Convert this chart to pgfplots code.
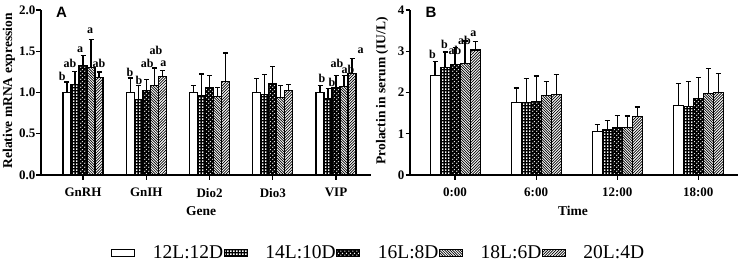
\documentclass[border=0pt]{standalone}
\usepackage{fontspec}
\setmainfont{Liberation Serif}
\newfontfamily\sansb{Liberation Sans}
\usepackage{pgfplots}
\pgfplotsset{compat=1.18}
\usepackage{pgfplotstable}
\usetikzlibrary{patterns}

% white squares (checker)
\pgfdeclarepatternformonly{wsq}{\pgfqpoint{0pt}{0pt}}{\pgfqpoint{2.8pt}{2.8pt}}{\pgfqpoint{2.8pt}{2.8pt}}{%
  \pgfpathrectangle{\pgfqpoint{0.2pt}{0.2pt}}{\pgfqpoint{1.4pt}{1.4pt}}\pgfusepath{fill}}
% white dots staggered
\pgfdeclarepatternformonly{wdot}{\pgfqpoint{0pt}{0pt}}{\pgfqpoint{4pt}{4pt}}{\pgfqpoint{4pt}{4pt}}{%
  \pgfpathcircle{\pgfqpoint{1pt}{1pt}}{0.8pt}\pgfpathcircle{\pgfqpoint{3pt}{3pt}}{0.8pt}\pgfusepath{fill}}
\pgfdeclarepatternformonly{mynw}{\pgfqpoint{-1pt}{-1pt}}{\pgfqpoint{3.6pt}{3.6pt}}{\pgfqpoint{2.6pt}{2.6pt}}{%
  \pgfsetlinewidth{0.7pt}\pgfpathmoveto{\pgfqpoint{0pt}{2.6pt}}\pgfpathlineto{\pgfqpoint{2.7pt}{-0.1pt}}\pgfusepath{stroke}}
\pgfdeclarepatternformonly{myne}{\pgfqpoint{-1pt}{-1pt}}{\pgfqpoint{3.8pt}{3.8pt}}{\pgfqpoint{2.8pt}{2.8pt}}{%
  \pgfsetlinewidth{0.7pt}\pgfpathmoveto{\pgfqpoint{0pt}{0pt}}\pgfpathlineto{\pgfqpoint{2.9pt}{2.9pt}}\pgfusepath{stroke}}

\tikzset{
  s1/.style={draw=black, fill=white},
  s2/.style={draw=black, fill=black, postaction={pattern=wsq, pattern color=white}},
  s3/.style={draw=black, fill=black, postaction={pattern=wdot, pattern color=white}},
  s4/.style={draw=black, fill=white, postaction={pattern=mynw, pattern color=black}},
  s5/.style={draw=black, fill=white, postaction={pattern=myne, pattern color=black}},
}

\pgfplotsset{
  myaxis/.style={
    scale only axis, axis lines=left, clip=false,
    axis line style={-, line width=1.2pt},
    tick style={black, line width=1.2pt}, tick align=outside,
    major tick length=4.5pt, minor tick num=0,
    /pgf/number format/assume math mode=true,
    tick label style={font=\bfseries\fontsize{13}{14}\selectfont},
    xticklabel style={yshift=-5pt},
    yticklabel style={xshift=2.5pt},
    label style={font=\bfseries\fontsize{13.5}{15}\selectfont},
  },
  mybar/.style={ybar, bar width=#1, bar shift=0pt, line width=1.1pt,
    legend image code/.code={\draw[##1, line width=1.1pt] (0pt,-3.5pt) rectangle (23pt,3.5pt); \path (40pt,0pt);},
    error bars/y dir=plus, error bars/y explicit, error bars/error mark=-,
    error bars/error bar style={line width=1.2pt, black},
    error bars/error mark options={black, line width=1.2pt, mark size=2.5pt, rotate=90}},
  letters/.style={draw=none, mark=none, forget plot, nodes near coords,
    point meta=explicit symbolic,
    nodes near coords style={anchor=center, inner sep=0pt, font=\bfseries\fontsize{12}{12}\selectfont}},
}

% Panel A: columns g (gene index), y (mean), e (upper error)
\pgfplotstableread{
g y e
0 1.000 0.128
1 1.000 0.177
2 1.000 0.088
3 1.000 0.165
4 1.000 0.088
}\Aone
\pgfplotstableread{
g y e
0 1.096 0.161
1 0.916 0.168
2 0.968 0.257
3 0.976 0.241
4 0.928 0.120
}\Atwo
\pgfplotstableread{
g y e
0 1.325 0.121
1 1.024 0.133
2 1.056 0.153
3 1.112 0.205
4 1.056 0.149
}\Athree
\pgfplotstableread{
g y e
0 1.305 0.342
1 1.088 0.209
2 0.948 0.108
3 0.944 0.144
4 1.076 0.129
}\Afour
\pgfplotstableread{
g y e
0 1.177 0.072
1 1.189 0.080
2 1.129 0.349
3 1.020 0.076
4 1.225 0.185
}\Afive
\pgfplotstableread{
u v l
-0.328 1.192 b
-0.206 1.354 ab
-0.047 1.524 a
0.111 1.752 a
0.253 1.354 ab
0.743 1.245 b
0.885 1.152 b
1.017 1.354 ab
1.154 1.515 ab
1.270 1.354 a
3.779 1.176 b
3.937 1.127 b
4.016 1.358 ab
4.190 1.285 ab
4.390 1.503 a
}\Alab

% Panel B
\pgfplotstableread{
g y e
0 2.41 0.345
1 1.75 0.36
2 1.05 0.18
3 1.69 0.53
}\Bone
\pgfplotstableread{
g y e
0 2.61 0.37
1 1.75 0.595
2 1.09 0.24
3 1.67 0.60
}\Btwo
\pgfplotstableread{
g y e
0 2.67 0.42
1 1.79 0.61
2 1.15 0.30
3 1.86 0.50
}\Bthree
\pgfplotstableread{
g y e
0 2.71 0.54
1 1.93 0.34
2 1.16 0.27
3 1.98 0.61
}\Bfour
\pgfplotstableread{
g y e
0 3.03 0.215
1 1.96 0.48
2 1.41 0.24
3 2.01 0.46
}\Bfive
\pgfplotstableread{
u v l
-0.280 2.933 b
-0.132 3.176 b
0.000 3.013 ab
0.115 3.273 ab
0.226 3.436 a
}\Blab

\begin{document}
\begin{tikzpicture}
\useasboundingbox (0,0) rectangle (738pt,263pt);
\begin{axis}[myaxis, at={(41pt,88pt)}, anchor=south west,
  width=330pt, height=165pt,
  xmin=-0.664, xmax=4.553, ymin=0, ymax=2,
  ytick={0,0.5,1,1.5,2},
  yticklabel style={/pgf/number format/.cd, fixed, fixed zerofill, precision=1},
  xtick={0,1,2,3,4}, xticklabels={GnRH,GnIH,Dio2,Dio3,VIP},
  xlabel={Gene}, ylabel={Relative mRNA expression},
  xlabel style={at={(axis description cs:0.485,-0.22)}, anchor=center},
  ylabel style={at={(axis description cs:-0.097,0.51)}, anchor=center},
  legend columns=5,
  legend style={draw=none, fill=none, at={(1.021,-0.473)}, anchor=center,
    font=\fontsize{19.5}{20}\selectfont,
    nodes={inner sep=0.5pt},
    /tikz/every odd column/.append style={column sep=0pt},
    /tikz/every even column/.append style={column sep=0pt}},
]
\addplot[s1, mybar=0.1266] table[x expr=\thisrow{g}-0.2532, y=y, y error=e]{\Aone};
\addplot[s2, mybar=0.1266] table[x expr=\thisrow{g}-0.1266, y=y, y error=e]{\Atwo};
\addplot[s3, mybar=0.1266] table[x expr=\thisrow{g}, y=y, y error=e]{\Athree};
\addplot[s4, mybar=0.1266] table[x expr=\thisrow{g}+0.1266, y=y, y error=e]{\Afour};
\addplot[s5, mybar=0.1266] table[x expr=\thisrow{g}+0.2532, y=y, y error=e]{\Afive};
\legend{12L:12D,14L:10D,16L:8D,18L:6D,20L:4D}
\addplot[letters] table[x=u, y=v, meta=l]{\Alab};
\node[font=\sansb\bfseries\fontsize{15}{15}\selectfont] at (axis description cs:0.062,0.985) {A};
\end{axis}

\begin{axis}[myaxis, at={(410pt,88pt)}, anchor=south west,
  width=328pt, height=165pt,
  xmin=-0.556, xmax=3.49, ymin=0, ymax=4,
  ytick={0,1,2,3,4},
  xtick={0,1,2,3}, xticklabels={0:00,6:00,12:00,18:00},
  xlabel={Time}, ylabel={Prolactin in serum (IU/L)},
  xlabel style={at={(axis description cs:0.497,-0.22)}, anchor=center},
  ylabel style={at={(axis description cs:-0.085,0.51)}, anchor=center},
]
\addplot[s1, mybar=0.1235] table[x expr=\thisrow{g}-0.247, y=y, y error=e]{\Bone};
\addplot[s2, mybar=0.1235] table[x expr=\thisrow{g}-0.1235, y=y, y error=e]{\Btwo};
\addplot[s3, mybar=0.1235] table[x expr=\thisrow{g}, y=y, y error=e]{\Bthree};
\addplot[s4, mybar=0.1235] table[x expr=\thisrow{g}+0.1235, y=y, y error=e]{\Bfour};
\addplot[s5, mybar=0.1235] table[x expr=\thisrow{g}+0.247, y=y, y error=e]{\Bfive};
\addplot[letters] table[x=u, y=v, meta=l]{\Blab};
\node[font=\sansb\bfseries\fontsize{15}{15}\selectfont] at (axis description cs:0.064,0.985) {B};
\end{axis}
\end{tikzpicture}
\end{document}
